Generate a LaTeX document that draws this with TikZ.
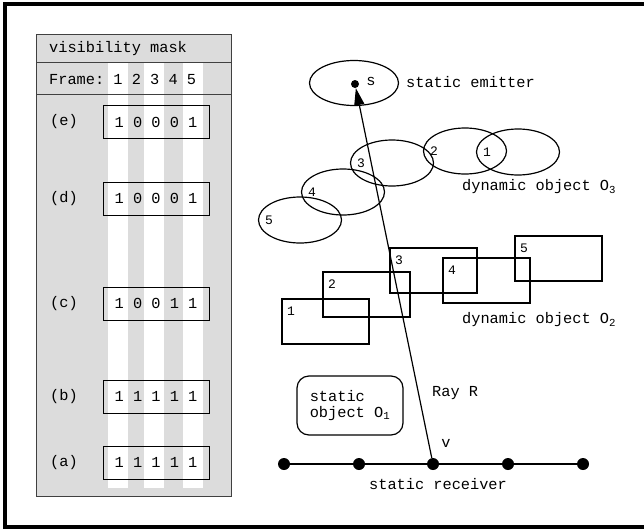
\documentclass[tikz,border=0pt]{standalone}
\usepackage{fontspec}
\setmainfont{Liberation Mono}
\usetikzlibrary{arrows.meta, positioning, shapes.geometric}
\definecolor{panelgray}{RGB}{220,220,220}

\begin{document}
\begin{tikzpicture}[x=1pt, y=-1pt,
  font=\fontsize{15.3}{16}\selectfont\frenchspacing,
  txt/.style={inner sep=0pt},
  num/.style={inner sep=0pt, font=\fontsize{13}{14}\selectfont},
  maskbox/.style={draw, line width=1pt, minimum width=106pt, minimum height=33pt, inner sep=0pt},
  blob/.style={draw, ellipse, line width=1.2pt, minimum width=83pt, minimum height=46pt, inner sep=0pt},
  box/.style={draw, rectangle, line width=1.2pt, minimum width=87pt, minimum height=45pt, inner sep=0pt},
  dot/.style={circle, fill, inner sep=0pt, minimum size=12pt},
  ray/.style={-{Triangle[length=17pt, width=10pt]}, line width=1.2pt}
]

\useasboundingbox (0,0) rectangle (644,530);
\clip (0,0) rectangle (644,530);
\draw[line width=4pt] (5,4) rectangle (650,527);

\fill[panelgray] (36,34) rectangle (231,496);
\foreach \x in {108,144,183} \fill[white] (\x,62) rectangle ++(19.5,426);
\draw[line width=1pt, black!75] (36,62) -- (231,62) (36,94) -- (231,94);
\draw[line width=1pt, black!75] (36,34) rectangle (231,496);

\node[txt, anchor=west] (title) at (49,49) {visibility mask};
\node[txt, anchor=west] (frames) at (49,79) {Frame: 1 2 3 4 5};

\foreach \lab/\bits/\y in {e/1 0 0 0 1/122, d/1 0 0 0 1/198.5, c/1 0 0 1 1/303.5, b/1 1 1 1 1/396.5, a/1 1 1 1 1/462.5} {
  \node[maskbox] (m\lab) at (156,\y) {\bits};
  \node[txt] (l\lab) at (64,\y) {(\lab)};
}

\node[blob, minimum width=89pt, minimum height=45pt] (emit) at (354,83) {};
\node[dot, minimum size=8pt] (src) at (355,84) {};
\node[txt] (slab) at (371,81) {s};
\node[txt, anchor=west] (emitlab) at (406,82) {static emitter};

\foreach \i/\x/\y in {1/518/152, 2/465/151, 3/392/163, 4/343/192, 5/300/220} {
  \node[blob] (o3\i) at (\x,\y) {};
  \node[num] (o3n\i) at (\x-31,\y) {\i};
}
\node[txt, anchor=west] (o3lab) at (462,187) {dynamic object O\textsubscript{3}};

\foreach \i/\x/\y in {1/282/299, 2/323/272, 3/390/248, 4/443/258, 5/515/236} {
  \node[box] (o2\i) at (\x+43.5,\y+22.5) {};
  \node[num] (o2n\i) at (\x+9,\y+12) {\i};
}
\node[txt, anchor=west] (o2lab) at (462,320) {dynamic object O\textsubscript{2}};

\node[draw, rounded corners=12pt, line width=1.2pt, minimum width=106pt, minimum height=59pt, align=left] (o1) at (350,405.5) {static\\object O\textsubscript{1}};

\foreach \i/\x in {1/284, 2/359, 3/433, 4/508, 5/583}
  \node[dot] (r\i) at (\x,464) {};
\draw[line width=1.2pt] (r1) -- (r5);
\node[txt] (v) at (446,443) {v};
\node[txt] (reclab) at (438,484) {static receiver};
\node[txt, anchor=west] (raylab) at (432,393) {Ray R};

\draw[ray] (r3) -- (src);

\end{tikzpicture}
\end{document}
